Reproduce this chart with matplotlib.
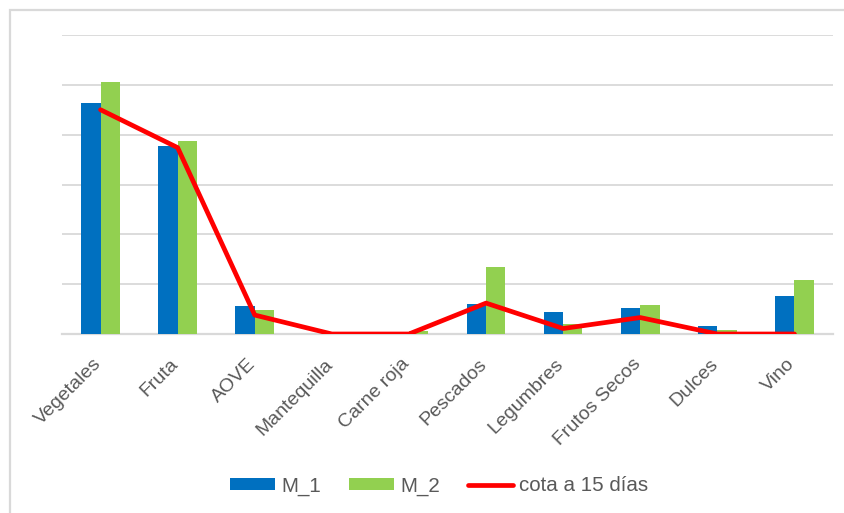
import numpy as np
import matplotlib
matplotlib.use("Agg")
import matplotlib.pyplot as plt
from matplotlib.patches import Rectangle
from matplotlib.transforms import ScaledTranslation

plt.rcParams['font.family'] = ['Liberation Sans', 'DejaVu Sans']

categories = ["Vegetales", "Fruta", "AOVE", "Mantequilla", "Carne roja",
              "Pescados", "Legumbres", "Frutos Secos", "Dulces", "Vino"]
m1 = [46.4, 37.8, 5.6, 0.0, 0.0, 6.0, 4.5, 5.2, 1.7, 7.6]
m2 = [50.5, 38.7, 4.8, 0.0, 0.7, 13.5, 2.1, 5.8, 0.8, 10.8]
cota = [45.0, 37.4, 3.8, 0.0, 0.0, 6.2, 1.1, 3.3, 0.0, 0.0]

blue = "#0070C0"
green = "#92D050"
red = "#FF0000"
grid_c = "#D9D9D9"
text_c = "#595959"

W, H = 845, 513
fig = plt.figure(figsize=(W / 100, H / 100), dpi=100)
fig.patch.set_facecolor("white")

# outer chart frame
fig.patches.append(Rectangle((10 / W, -0.05), 1.0, 1 - 10 / H + 0.05,
                             transform=fig.transFigure, fill=False,
                             edgecolor=grid_c, linewidth=1.6))

ax = fig.add_axes([62 / W, 1 - 334 / H, (833 - 62) / W, (334 - 35) / H])
x = np.arange(len(categories))
bw = 0.25
b1 = ax.bar(x - bw / 2, m1, width=bw, color=blue, label="M_1", zorder=3)
b2 = ax.bar(x + bw / 2, m2, width=bw, color=green, label="M_2", zorder=3)
ln, = ax.plot(x, cota, color=red, linewidth=3.4, label="cota a 15 días",
              solid_capstyle="round", solid_joinstyle="round", zorder=4)

ax.set_xlim(-0.5, len(categories) - 0.5)
ax.set_ylim(0, 60)
ax.set_yticks(np.arange(0, 61, 10))
ax.yaxis.grid(True, color=grid_c, linewidth=1.3, zorder=0)
ax.set_axisbelow(True)
ax.tick_params(axis="y", left=False, labelleft=False)
ax.tick_params(axis="x", bottom=False, pad=12)
for s in ["left", "right", "top"]:
    ax.spines[s].set_visible(False)
ax.spines["bottom"].set_color(grid_c)
ax.spines["bottom"].set_linewidth(1.6)
ax.set_xticks(x)
ax.set_xticklabels(categories, rotation=45, ha="right", rotation_mode="anchor",
                   fontsize=14, color=text_c)
shift = ScaledTranslation(-8 / 100, 0, fig.dpi_scale_trans)
for lab in ax.get_xticklabels():
    lab.set_transform(lab.get_transform() + shift)

leg = fig.legend([b1, b2, ln], ["M_1", "M_2", "cota a 15 días"],
                 loc="center", ncol=3,
                 bbox_to_anchor=(439 / W, 1 - 486 / H), frameon=False,
                 fontsize=14.8, handlelength=2.2, handleheight=0.55,
                 handletextpad=0.3, columnspacing=1.35)
for t in leg.get_texts():
    t.set_color(text_c)

fig.savefig("out.png", dpi=100, facecolor="white")
